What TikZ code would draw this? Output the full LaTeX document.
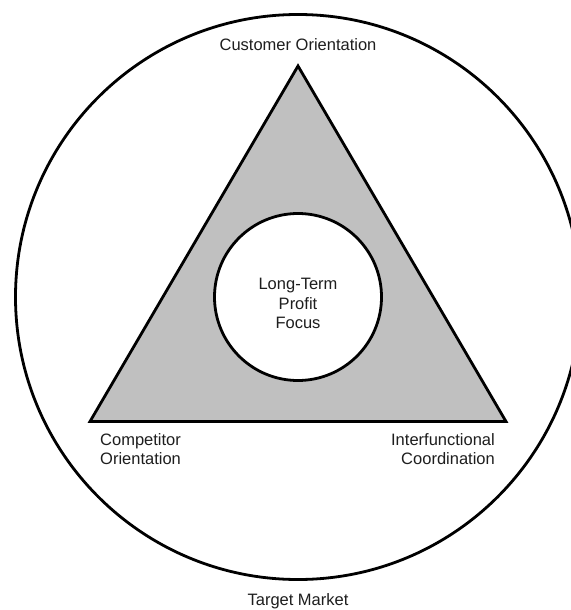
\documentclass[tikz,border=0pt]{standalone}
\usepackage{fontspec}
\setmainfont{Liberation Sans}
\begin{document}
\begin{tikzpicture}[x=1bp,y=-1bp,
  outline/.style={draw=black,line width=2.8bp,line join=miter},
  label/.style={inner sep=0pt,text=labelInk,font=\fontsize{16.5bp}{19.5bp}\selectfont}]
\definecolor{labelInk}{HTML}{1E1E1E}
\definecolor{triFill}{HTML}{C0C0C0}
\useasboundingbox (0,0) rectangle (571,610);
\clip (0,0) rectangle (571,610);
\fill[white] (0,0) rectangle (571,610);

% outer ring: the target market
\coordinate (mid) at (298,297);
\draw[outline] (mid) circle[radius=282.5];

% triangle of the three components
\coordinate (apex) at (298,66);
\coordinate (bl) at (90,421.5);
\coordinate (br) at (506,421.5);
\filldraw[outline,fill=triFill] (apex) -- (bl) -- (br) -- cycle;

% central focus
\node[outline,fill=white,circle,minimum size=167bp,inner sep=0pt] (core) at (mid) {};
\node[label,align=center,anchor=north] (focus) at (298,278) {Long-Term\\Profit\\Focus};

% component and market labels
\node[label,anchor=base] (cust) at (298,51) {Customer Orientation};
\node[label,align=left,anchor=north west] (comp) at (100,433) {Competitor\\Orientation};
\node[label,align=right,anchor=north east] (inter) at (495,433) {Interfunctional\\Coordination};
\node[label,anchor=base] (market) at (298,605.5) {Target Market};
\end{tikzpicture}
\end{document}
